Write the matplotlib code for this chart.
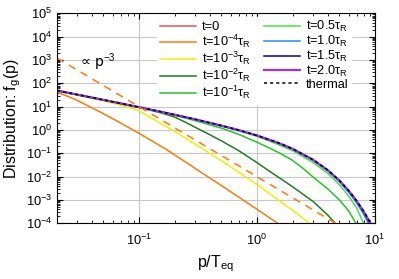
import matplotlib
matplotlib.use("Agg")
import matplotlib.pyplot as plt
from matplotlib.ticker import LogLocator, NullFormatter

plt.rcParams["font.family"] = ["Liberation Sans", "DejaVu Sans"]
plt.rcParams["mathtext.fontset"] = "custom"
plt.rcParams["mathtext.rm"] = "Liberation Sans"
plt.rcParams["mathtext.it"] = "Liberation Sans:italic"

# valores (p/T_eq, f_g)
p_thermal = [0.0202, 0.03, 0.05, 0.07, 0.1, 0.15, 0.2, 0.3, 0.5, 0.7, 1.0, 1.5, 2.0,
             3.0, 4.0, 5.0, 6.0, 7.0, 8.0, 9.0, 9.3]
f_thermal = [49.0, 32.8, 19.5, 13.8, 9.51, 6.18, 4.52, 2.86, 1.54, 0.987, 0.582, 0.287,
             0.157, 0.0524, 0.0187, 0.00678, 0.00248, 0.000913, 0.000336, 0.000123, 0.000091]
f_t20 = [49.0, 32.8, 19.5, 13.8, 9.51, 6.18, 4.52, 2.86, 1.54, 0.987, 0.582, 0.287,
         0.157, 0.0524, 0.0187, 0.00678, 0.00247, 0.000905, 0.000330, 0.000120, 0.000088]
f_t15 = [49.0, 32.8, 19.5, 13.8, 9.5, 6.17, 4.51, 2.85, 1.53, 0.98, 0.578, 0.284,
         0.155, 0.0515, 0.0183, 0.0066, 0.0024, 0.00087, 0.00031, 0.000105, 0.000076]

p_t10 = [0.0202, 0.03, 0.05, 0.07, 0.1, 0.15, 0.2, 0.3, 0.5, 0.7, 1.0, 1.5, 2.0,
         3.0, 4.0, 5.0, 6.0, 7.0, 8.0, 8.8]
f_t10 = [48.8, 32.6, 19.4, 13.7, 9.45, 6.12, 4.47, 2.82, 1.51, 0.96, 0.565, 0.277,
         0.15, 0.0495, 0.0172, 0.0061, 0.0021, 0.00075, 0.00025, 0.0001]

p_t05 = [0.0202, 0.03, 0.05, 0.07, 0.1, 0.15, 0.2, 0.3, 0.5, 0.7, 1.0, 1.5, 2.0,
         3.0, 4.0, 5.0, 6.0, 7.0, 8.0]
f_t05 = [48.5, 32.3, 19.2, 13.5, 9.3, 6.0, 4.37, 2.75, 1.46, 0.92, 0.54, 0.24,
         0.13, 0.040, 0.0135, 0.0045, 0.00145, 0.00045, 0.0001]

p_t01 = [0.0202, 0.05, 0.1, 0.2, 0.3, 0.5, 0.7, 1.0, 1.3, 1.57, 2.0, 2.5, 3.0, 4.0,
         5.0, 6.0, 6.9]
f_t01 = [48.0, 19.2, 9.3, 4.3, 2.5, 1.2, 0.65, 0.3, 0.16, 0.1, 0.05, 0.021, 0.0095,
         0.0029, 0.001, 0.00033, 0.0001]

p_t1e2 = [0.0202, 0.05, 0.1, 0.15, 0.2, 0.25, 0.3, 0.4, 0.5, 0.7, 1.0, 1.3, 1.57,
          2.0, 3.0, 4.0, 4.6]
f_t1e2 = [48.5, 19.3, 9.2, 5.6, 3.6, 2.1, 1.3, 0.62, 0.34, 0.13, 0.04, 0.016, 0.0085,
          0.0037, 0.00085, 0.00022, 0.0001]

p_t1e3 = [0.0202, 0.03, 0.05, 0.07, 0.085, 0.1, 0.12, 0.15, 0.2, 0.33, 0.55, 1.0,
          2.0, 2.8]
f_t1e3 = [47.0, 31.0, 17.5, 11.5, 8.8, 6.7, 3.9, 2.0, 0.88, 0.18, 0.035, 0.0046,
          0.00036, 0.0001]

p_t1e4 = [0.0202, 0.0287, 0.0466, 0.0626, 0.1, 0.166, 0.298, 0.55, 1.0, 1.5]
f_t1e4 = [42.0, 20.7, 6.0, 2.7, 0.72, 0.16, 0.023, 0.003, 0.0004, 0.0001]

p_t0 = []
f_t0 = []

# reta de referência ∝ p^-3
p_ref = [0.0202, 4.64]
f_ref = [1213.0, 0.0001]

fig = plt.figure(figsize=(3.99, 2.79), dpi=100)
ax = fig.add_axes([0.1429, 0.1996, 0.7969, 0.7527])

lw = 1.1
ax.plot(p_t0, f_t0, color="#f25050", lw=lw, label="t=0")
ax.plot(p_t1e4, f_t1e4, color="#ff7a0a", lw=lw, label=r"t=10$^{-4}$τ$_{\rm R}$")
ax.plot(p_t1e3, f_t1e3, color="#f0f000", lw=lw, label=r"t=10$^{-3}$τ$_{\rm R}$")
ax.plot(p_t1e2, f_t1e2, color="#1e7f1e", lw=lw, label=r"t=10$^{-2}$τ$_{\rm R}$")
ax.plot(p_t01, f_t01, color="#22c822", lw=lw, label=r"t=10$^{-1}$τ$_{\rm R}$")
ax.plot(p_t05, f_t05, color="#3ee83e", lw=lw, label="t=0.5τ$_{\\rm R}$")
ax.plot(p_t10, f_t10, color="#1e90ff", lw=lw, label="t=1.0τ$_{\\rm R}$")
ax.plot(p_thermal, f_t15, color="#0000a0", lw=lw, label="t=1.5τ$_{\\rm R}$")
ax.plot(p_thermal, f_t20, color="#9a30f0", lw=1.6, label="t=2.0τ$_{\\rm R}$")
ax.plot(p_thermal, f_thermal, color="black", lw=1.1, ls=(0, (2, 2)), label="thermal")
ax.plot(p_ref, f_ref, color="#ff7a0a", lw=lw, ls=(0, (5, 4)))

ax.text(0.0315, 820, "∝ p$^{-3}$", fontsize=10, va="center", ha="left",
        family=["DejaVu Sans", "Liberation Sans"])

ax.set_xscale("log")
ax.set_yscale("log")
ax.set_xlim(0.0202, 10)
ax.set_ylim(1e-4, 1e5)
ax.set_xticks([0.1, 1, 10])
ax.set_yticks([10.0 ** k for k in range(-4, 6)])
ax.xaxis.set_minor_locator(LogLocator(base=10, subs=range(2, 10), numticks=20))
ax.yaxis.set_minor_locator(LogLocator(base=10, subs=range(2, 10), numticks=20))
ax.xaxis.set_minor_formatter(NullFormatter())
ax.yaxis.set_minor_formatter(NullFormatter())
ax.tick_params(which="both", direction="in", top=True, right=True, labelsize=9.3)
ax.tick_params(which="major", length=4, width=0.8)
ax.tick_params(which="minor", length=2, width=0.6)
ax.tick_params(axis="x", pad=7)
ax.grid(True, which="major", color="#c8c8c8", lw=0.8)
ax.set_axisbelow(True)

ax.set_xlabel(r"p/T$_{\rm eq}$", fontsize=11.5, labelpad=4)
ax.set_ylabel(r"Distribution: f$_{\rm g}$(p)", fontsize=11.5, labelpad=2)

leg = ax.legend(ncol=2, loc="upper left", fontsize=9.2, frameon=True, fancybox=False,
                edgecolor="white", framealpha=1.0, handlelength=2.8, handletextpad=0.5,
                columnspacing=1.0, labelspacing=-0.02, borderpad=0.2,
                bbox_to_anchor=(0.295, 1.014))
leg.set_zorder(2.4)  # abaixo das bordas do eixo, acima das curvas

fig.savefig("out.png", dpi=100)
